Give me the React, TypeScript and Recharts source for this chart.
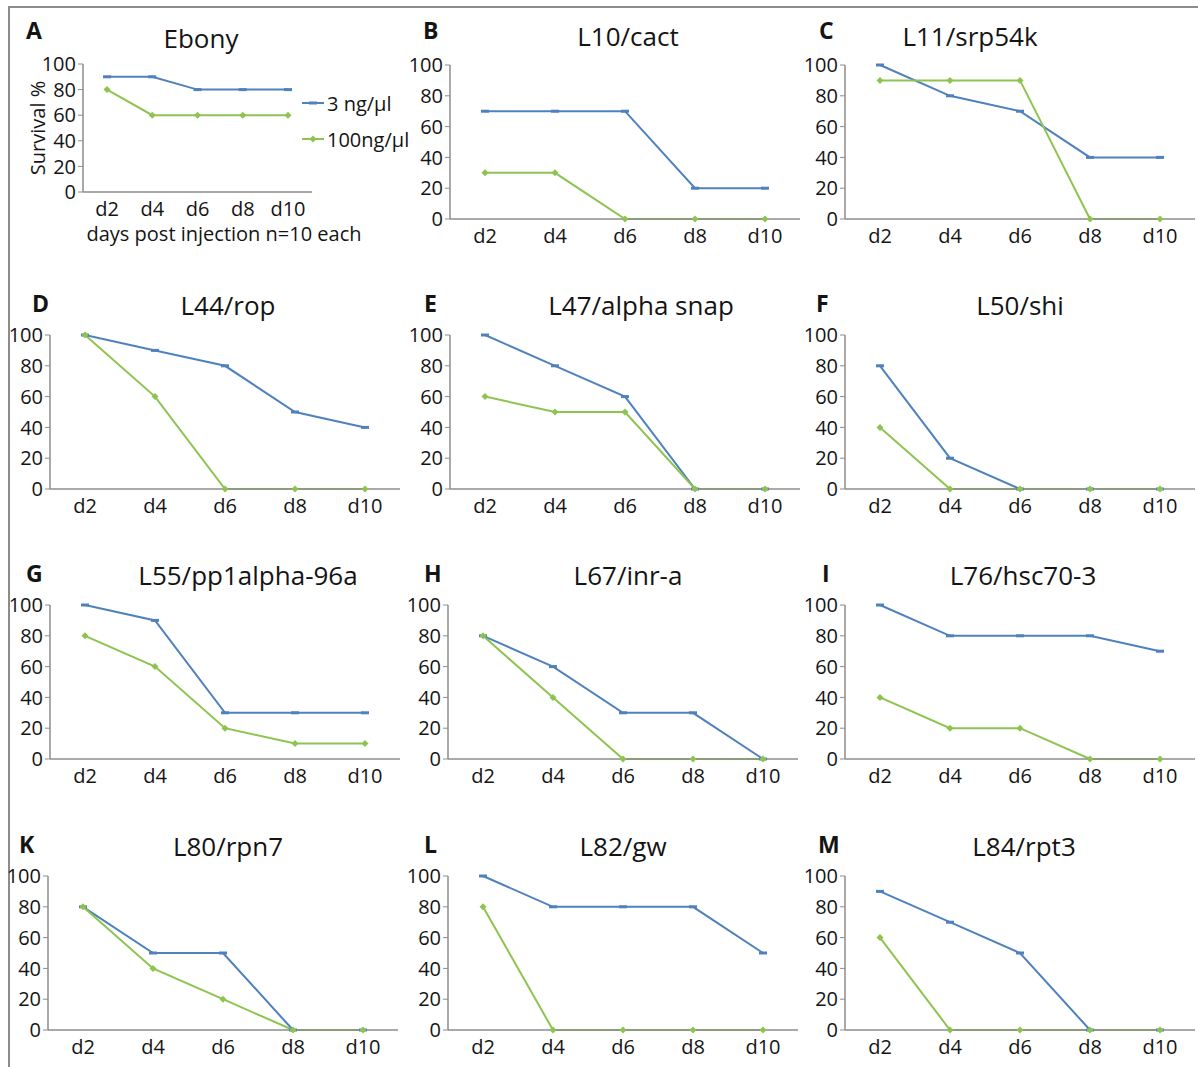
import { Line, LineChart, XAxis, YAxis } from 'recharts'

const DAYS = ['d2', 'd4', 'd6', 'd8', 'd10']
const Y_TICKS = [0, 20, 40, 60, 80, 100]
const LOW_DOSE = '3 ng/µl'
const HIGH_DOSE = '100ng/µl'

const EBONY_LOW = [90, 90, 80, 80, 80]
const EBONY_HIGH = [80, 60, 60, 60, 60]
const CACT_LOW = [70, 70, 70, 20, 20]
const CACT_HIGH = [30, 30, 0, 0, 0]
const SRP54K_LOW = [100, 80, 70, 40, 40]
const SRP54K_HIGH = [90, 90, 90, 0, 0]
const ROP_LOW = [100, 90, 80, 50, 40]
const ROP_HIGH = [100, 60, 0, 0, 0]
const SNAP_LOW = [100, 80, 60, 0, 0]
const SNAP_HIGH = [60, 50, 50, 0, 0]
const SHI_LOW = [80, 20, 0, 0, 0]
const SHI_HIGH = [40, 0, 0, 0, 0]
const PP1_LOW = [100, 90, 30, 30, 30]
const PP1_HIGH = [80, 60, 20, 10, 10]
const INR_LOW = [80, 60, 30, 30, 0]
const INR_HIGH = [80, 40, 0, 0, 0]
const HSC70_LOW = [100, 80, 80, 80, 70]
const HSC70_HIGH = [40, 20, 20, 0, 0]
const RPN7_LOW = [80, 50, 50, 0, 0]
const RPN7_HIGH = [80, 40, 20, 0, 0]
const GW_LOW = [100, 80, 80, 80, 50]
const GW_HIGH = [80, 0, 0, 0, 0]
const RPT3_LOW = [90, 70, 50, 0, 0]
const RPT3_HIGH = [60, 0, 0, 0, 0]

const BLUE = '#4f81bd'
const GREEN = '#8dc44f'
const AXIS = '#8c8c8c'
const INK = '#141414'
const FONT = '"Open Sans", sans-serif'
const YW = 52
const MT = 18
const XH = 36

const ROWS = [65, 335, 605, 876]
const COLS = [50, 450, 845]

const PANELS = [
  { letter: 'A', title: 'Ebony', low: EBONY_LOW, high: EBONY_HIGH, x: 83, y: 64, w: 229, h: 128, pad: 24, titleX: 201, letterX: 26, titleUp: 25, letterUp: 33 },
  { letter: 'B', title: 'L10/cact', low: CACT_LOW, high: CACT_HIGH, x: COLS[1], y: ROWS[0], titleX: 628, letterX: 423, titleUp: 28, letterUp: 34 },
  { letter: 'C', title: 'L11/srp54k', low: SRP54K_LOW, high: SRP54K_HIGH, x: COLS[2], y: ROWS[0], titleX: 970, letterX: 819, titleUp: 28, letterUp: 34 },
  { letter: 'D', title: 'L44/rop', low: ROP_LOW, high: ROP_HIGH, x: COLS[0], y: ROWS[1], titleX: 228, letterX: 32 },
  { letter: 'E', title: 'L47/alpha snap', low: SNAP_LOW, high: SNAP_HIGH, x: COLS[1], y: ROWS[1], titleX: 641, letterX: 424 },
  { letter: 'F', title: 'L50/shi', low: SHI_LOW, high: SHI_HIGH, x: COLS[2], y: ROWS[1], titleX: 1020, letterX: 816 },
  { letter: 'G', title: 'L55/pp1alpha-96a', low: PP1_LOW, high: PP1_HIGH, x: COLS[0], y: ROWS[2], titleX: 248, letterX: 26 },
  { letter: 'H', title: 'L67/inr-a', low: INR_LOW, high: INR_HIGH, x: 448, y: ROWS[2], titleX: 628, letterX: 424 },
  { letter: 'I', title: 'L76/hsc70-3', low: HSC70_LOW, high: HSC70_HIGH, x: COLS[2], y: ROWS[2], titleX: 1023, letterX: 822 },
  { letter: 'K', title: 'L80/rpn7', low: RPN7_LOW, high: RPN7_HIGH, x: 48, y: ROWS[3], titleX: 228, letterX: 19 },
  { letter: 'L', title: 'L82/gw', low: GW_LOW, high: GW_HIGH, x: 448, y: ROWS[3], titleX: 623, letterX: 424 },
  { letter: 'M', title: 'L84/rpt3', low: RPT3_LOW, high: RPT3_HIGH, x: COLS[2], y: ROWS[3], titleX: 1024, letterX: 818 },
]

function BlueDash({ cx, cy }: any) {
  if (cx == null || cy == null) return null
  return <rect x={cx - 4} y={cy - 1.5} width={8} height={3} fill={BLUE} />
}

function GreenDiamond({ cx, cy }: any) {
  if (cx == null || cy == null) return null
  return <path d={`M${cx},${cy - 3.5}L${cx + 3.5},${cy}L${cx},${cy + 3.5}L${cx - 3.5},${cy}Z`} fill={GREEN} />
}

function Panel({ p }: { p: any }) {
  const w = p.w ?? 350
  const h = p.h ?? 154
  const pad = p.pad ?? 35
  const titleUp = p.titleUp ?? 29
  const letterUp = p.letterUp ?? 31
  const data = DAYS.map((day, i) => ({ day, low: p.low[i], high: p.high[i] }))
  const tick = { fontSize: 20, fill: INK, fontFamily: FONT }
  return (
    <>
      <div style={{ position: 'absolute', left: p.letterX, top: p.y - letterUp - 12, fontSize: 23, lineHeight: '23px', fontWeight: 700, color: INK }}>{p.letter}</div>
      <div style={{ position: 'absolute', left: p.titleX, top: p.y - titleUp - 14, transform: 'translateX(-50%)', fontSize: 26, lineHeight: '26px', whiteSpace: 'nowrap', color: INK }}>{p.title}</div>
      <div style={{ position: 'absolute', left: p.x - YW, top: p.y - MT }}>
        <LineChart width={YW + w} height={MT + h + XH} data={data} margin={{ top: MT, right: 0, left: 0, bottom: 0 }}>
          <XAxis dataKey="day" height={XH} interval={0} tickLine={false} tickSize={0} tickMargin={10} padding={{ left: pad, right: pad }} axisLine={{ stroke: AXIS, strokeWidth: 1.5 }} tick={tick} />
          <YAxis width={YW} domain={[0, 100]} ticks={Y_TICKS} interval={0} tickSize={5} tickMargin={2} axisLine={{ stroke: AXIS, strokeWidth: 1.5 }} tickLine={{ stroke: AXIS }} tick={tick} />
          <Line dataKey="low" name={LOW_DOSE} stroke={BLUE} strokeWidth={2} dot={<BlueDash />} activeDot={false} isAnimationActive={false} />
          <Line dataKey="high" name={HIGH_DOSE} stroke={GREEN} strokeWidth={2} dot={<GreenDiamond />} activeDot={false} isAnimationActive={false} />
        </LineChart>
      </div>
    </>
  )
}

function LegendRow({ color, label, top, diamond }: { color: string; label: string; top: number; diamond?: boolean }) {
  return (
    <div style={{ position: 'absolute', left: 302, top: top - 12, height: 24, display: 'flex', alignItems: 'center', whiteSpace: 'nowrap' }}>
      <svg width={24} height={10}>
        <line x1={0} y1={5} x2={22} y2={5} stroke={color} strokeWidth={2} />
        {diamond
          ? <path d="M11,1.5L14.5,5L11,8.5L7.5,5Z" fill={color} />
          : <rect x={7} y={3.5} width={8} height={3} fill={color} />}
      </svg>
      <span style={{ fontSize: 20, marginLeft: 1, color: INK }}>{label}</span>
    </div>
  )
}

export default function App() {
  return (
    <div style={{ position: 'absolute', left: 0, top: 0, width: 1198, height: 1067, background: '#fff', fontFamily: FONT, overflow: 'hidden' }}>
      <div style={{ position: 'absolute', left: 8, top: 6, width: 1190, height: 2, background: '#8c8c8c' }} />
      <div style={{ position: 'absolute', left: 8, top: 6, width: 2, height: 1061, background: '#8c8c8c' }} />
      {PANELS.map(p => <Panel key={p.letter} p={p} />)}
      <div style={{ position: 'absolute', left: 37, top: 128, transform: 'translate(-50%, -50%) rotate(-90deg)', fontSize: 20, whiteSpace: 'nowrap', color: INK }}>Survival %</div>
      <div style={{ position: 'absolute', left: 224, top: 233, transform: 'translate(-50%, -50%)', fontSize: 20, whiteSpace: 'nowrap', color: INK }}>days post injection n=10 each</div>
      <LegendRow color={BLUE} label={LOW_DOSE} top={103} />
      <LegendRow color={GREEN} label={HIGH_DOSE} top={139} diamond />
    </div>
  )
}
